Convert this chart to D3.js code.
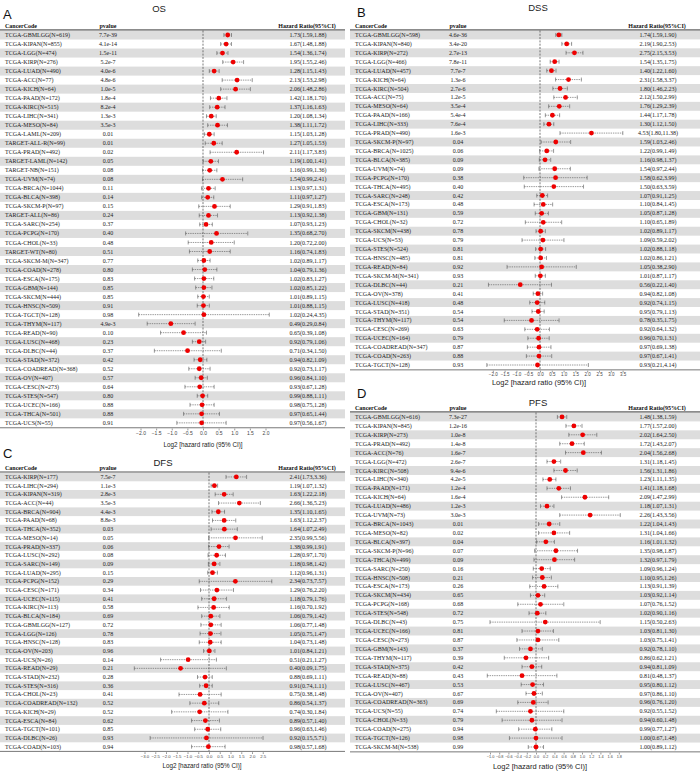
<!DOCTYPE html>
<html>
<head>
<meta charset="utf-8">
<script src="https://cdn.jsdelivr.net/npm/d3@7"></script>
<style>
  body { margin: 0; background: #fff; }
</style>
</head>
<body>
<svg id="chart" width="700" height="771"></svg>
<script>
// ---------- OS ----------
const osCodes = ["TCGA-GBMLGG(N=619)","TCGA-KIPAN(N=855)","TCGA-LGG(N=474)","TCGA-KIRP(N=276)","TCGA-LUAD(N=490)",
  "TCGA-ACC(N=77)","TCGA-KICH(N=64)","TCGA-PAAD(N=172)","TCGA-KIRC(N=515)","TCGA-LIHC(N=341)","TCGA-MESO(N=84)",
  "TCGA-LAML(N=209)","TARGET-ALL-R(N=99)","TCGA-PRAD(N=492)","TARGET-LAML(N=142)","TARGET-NB(N=151)","TCGA-UVM(N=74)",
  "TCGA-BRCA(N=1044)","TCGA-BLCA(N=398)","TCGA-SKCM-P(N=97)","TARGET-ALL(N=86)","TCGA-SARC(N=254)","TCGA-PCPG(N=170)",
  "TCGA-CHOL(N=33)","TARGET-WT(N=80)","TCGA-SKCM-M(N=347)","TCGA-COAD(N=278)","TCGA-ESCA(N=175)","TCGA-GBM(N=144)",
  "TCGA-SKCM(N=444)","TCGA-HNSC(N=509)","TCGA-TGCT(N=128)","TCGA-THYM(N=117)","TCGA-READ(N=90)","TCGA-LUSC(N=468)",
  "TCGA-DLBC(N=44)","TCGA-STAD(N=372)","TCGA-COADREAD(N=368)","TCGA-OV(N=407)","TCGA-CESC(N=273)","TCGA-STES(N=547)",
  "TCGA-UCEC(N=166)","TCGA-THCA(N=501)","TCGA-UCS(N=55)"];
const osPvalues = ["7.7e-39","4.1e-14","1.5e-11","5.2e-7","4.0e-6","4.8e-6","1.0e-5","1.8e-4","8.2e-4","1.3e-3","3.5e-3",
  "0.01","0.01","0.02","0.05","0.08","0.08","0.11","0.14","0.15","0.24","0.37","0.40","0.48","0.51","0.77","0.80","0.83",
  "0.85","0.85","0.91","0.98","4.9e-3","0.10","0.23","0.37","0.42","0.52","0.57","0.64","0.80","0.88","0.88","0.91"];
const osHR   = [1.73,1.67,1.54,1.95,1.28,2.13,2.06,1.42,1.37,1.20,1.38,1.15,1.27,2.11,1.19,1.16,1.54,1.13,1.11,1.29,1.13,1.07,1.35,1.20,1.16,1.02,1.04,1.02,1.02,1.01,1.01,1.02,0.49,0.65,0.92,0.71,0.94,0.92,0.96,0.93,0.99,0.98,0.97,0.97];
const osLow  = [1.59,1.48,1.36,1.55,1.15,1.53,1.48,1.18,1.16,1.08,1.11,1.03,1.05,1.17,1.00,0.99,0.99,0.97,0.97,0.91,0.92,0.93,0.68,0.72,0.74,0.89,0.79,0.83,0.85,0.89,0.88,0.24,0.29,0.39,0.79,0.34,0.82,0.73,0.84,0.67,0.88,0.75,0.65,0.56];
const osHigh = [1.88,1.88,1.74,2.46,1.43,2.98,2.86,1.70,1.63,1.34,1.72,1.28,1.53,3.83,1.41,1.36,2.41,1.31,1.27,1.83,1.38,1.23,2.70,2.00,1.83,1.17,1.36,1.27,1.22,1.15,1.15,4.35,0.84,1.08,1.06,1.50,1.09,1.17,1.10,1.28,1.11,1.28,1.44,1.67];

// ---------- DSS ----------
const dssCodes = ["TCGA-GBMLGG(N=598)","TCGA-KIPAN(N=840)","TCGA-KIRP(N=272)","TCGA-LGG(N=466)","TCGA-LUAD(N=457)",
  "TCGA-KICH(N=64)","TCGA-KIRC(N=504)","TCGA-ACC(N=75)","TCGA-MESO(N=64)","TCGA-PAAD(N=166)","TCGA-LIHC(N=333)",
  "TCGA-PRAD(N=490)","TCGA-SKCM-P(N=97)","TCGA-BRCA(N=1025)","TCGA-BLCA(N=385)","TCGA-UVM(N=74)","TCGA-PCPG(N=170)",
  "TCGA-THCA(N=495)","TCGA-SARC(N=248)","TCGA-ESCA(N=173)","TCGA-GBM(N=131)","TCGA-CHOL(N=32)","TCGA-SKCM(N=438)",
  "TCGA-UCS(N=53)","TCGA-STES(N=524)","TCGA-HNSC(N=485)","TCGA-READ(N=84)","TCGA-SKCM-M(N=341)","TCGA-DLBC(N=44)",
  "TCGA-OV(N=378)","TCGA-LUSC(N=418)","TCGA-STAD(N=351)","TCGA-THYM(N=117)","TCGA-CESC(N=269)","TCGA-UCEC(N=164)",
  "TCGA-COADREAD(N=347)","TCGA-COAD(N=263)","TCGA-TGCT(N=128)"];
const dssPvalues = ["4.6e-36","3.4e-20","2.7e-13","7.8e-11","7.7e-7","1.3e-6","2.7e-6","1.2e-5","3.5e-4","5.4e-4","7.6e-4",
  "1.6e-3","0.04","0.06","0.09","0.09","0.38","0.40","0.42","0.48","0.59","0.72","0.78","0.79","0.81","0.81","0.92","0.93",
  "0.21","0.41","0.48","0.54","0.54","0.63","0.79","0.87","0.88","0.93"];
const dssHR   = [1.74,2.19,2.75,1.54,1.40,2.31,1.80,2.12,1.76,1.44,1.30,4.53,1.59,1.22,1.16,1.54,1.58,1.50,1.07,1.10,1.05,1.10,1.02,1.09,1.02,1.02,1.05,1.01,0.56,0.94,0.92,0.95,0.78,0.92,0.96,0.97,0.97,0.93];
const dssLow  = [1.59,1.90,2.15,1.35,1.22,1.58,1.46,1.50,1.29,1.17,1.12,1.80,1.03,0.99,0.98,0.97,0.62,0.63,0.91,0.84,0.87,0.65,0.89,0.59,0.88,0.86,0.38,0.87,0.22,0.82,0.74,0.79,0.35,0.64,0.70,0.69,0.67,0.21];
const dssHigh = [1.90,2.53,3.53,1.75,1.60,3.37,2.23,2.99,2.39,1.78,1.50,11.38,2.46,1.49,1.37,2.44,3.99,3.59,1.25,1.45,1.28,1.89,1.17,2.02,1.18,1.21,2.90,1.17,1.40,1.08,1.15,1.13,1.75,1.32,1.31,1.38,1.41,4.14];

// ---------- DFS ----------
const dfsCodes = ["TCGA-KIRP(N=177)","TCGA-LIHC(N=294)","TCGA-KIPAN(N=319)","TCGA-ACC(N=44)","TCGA-BRCA(N=904)",
  "TCGA-PAAD(N=68)","TCGA-THCA(N=352)","TCGA-MESO(N=14)","TCGA-PRAD(N=337)","TCGA-LUSC(N=292)","TCGA-SARC(N=149)",
  "TCGA-LUAD(N=295)","TCGA-PCPG(N=152)","TCGA-CESC(N=171)","TCGA-UCEC(N=115)","TCGA-KIRC(N=113)","TCGA-BLCA(N=184)",
  "TCGA-GBMLGG(N=127)","TCGA-LGG(N=126)","TCGA-HNSC(N=128)","TCGA-OV(N=203)","TCGA-UCS(N=26)","TCGA-READ(N=29)",
  "TCGA-STAD(N=232)","TCGA-STES(N=316)","TCGA-CHOL(N=23)","TCGA-COADREAD(N=132)","TCGA-KICH(N=29)","TCGA-ESCA(N=84)",
  "TCGA-TGCT(N=101)","TCGA-DLBC(N=26)","TCGA-COAD(N=103)"];
const dfsPvalues = ["7.5e-7","1.1e-3","2.8e-3","3.5e-3","4.4e-3","8.8e-3","0.03","0.05","0.06","0.08","0.09","0.15","0.29",
  "0.34","0.41","0.58","0.69","0.72","0.78","0.83","0.96","0.14","0.21","0.28","0.36","0.41","0.52","0.52","0.62","0.85",
  "0.93","0.94"];
const dfsHR   = [2.41,1.19,1.63,2.66,1.35,1.63,1.64,2.35,1.38,1.28,1.18,1.12,2.34,1.29,1.18,1.16,1.06,1.06,1.05,1.04,1.01,0.51,0.40,0.88,0.91,0.75,0.86,0.74,0.89,0.96,0.92,0.98];
const dfsLow  = [1.73,1.07,1.22,1.36,1.10,1.12,1.07,0.99,0.99,0.97,0.98,0.96,0.73,0.76,0.79,0.70,0.79,0.77,0.75,0.73,0.84,0.21,0.09,0.69,0.74,0.38,0.54,0.30,0.57,0.63,0.15,0.57];
const dfsHigh = [3.36,1.32,2.18,5.23,1.65,2.37,2.49,5.56,1.91,1.70,1.42,1.31,7.57,2.20,1.76,1.92,1.42,1.48,1.47,1.48,1.21,1.27,1.75,1.11,1.11,1.48,1.37,1.84,1.40,1.46,5.71,1.68];

// ---------- PFS ----------
const pfsCodes = ["TCGA-GBMLGG(N=616)","TCGA-KIPAN(N=845)","TCGA-KIRP(N=273)","TCGA-PRAD(N=492)","TCGA-ACC(N=76)",
  "TCGA-LGG(N=472)","TCGA-KIRC(N=508)","TCGA-LIHC(N=340)","TCGA-PAAD(N=171)","TCGA-KICH(N=64)","TCGA-LUAD(N=486)",
  "TCGA-UVM(N=73)","TCGA-BRCA(N=1043)","TCGA-MESO(N=82)","TCGA-BLCA(N=397)","TCGA-SKCM-P(N=96)","TCGA-THCA(N=499)",
  "TCGA-SARC(N=250)","TCGA-HNSC(N=508)","TCGA-ESCA(N=173)","TCGA-SKCM(N=434)","TCGA-PCPG(N=168)","TCGA-STES(N=548)",
  "TCGA-DLBC(N=43)","TCGA-UCEC(N=166)","TCGA-CESC(N=273)","TCGA-GBM(N=143)","TCGA-THYM(N=117)","TCGA-STAD(N=375)",
  "TCGA-READ(N=88)","TCGA-LUSC(N=467)","TCGA-OV(N=407)","TCGA-COADREAD(N=363)","TCGA-UCS(N=55)","TCGA-CHOL(N=33)",
  "TCGA-COAD(N=275)","TCGA-TGCT(N=126)","TCGA-SKCM-M(N=538)"];
const pfsPvalues = ["7.3e-27","1.2e-16","1.0e-8","1.4e-8","1.6e-7","2.6e-7","9.4e-6","4.2e-5","1.2e-4","1.6e-4","1.2e-3",
  "3.0e-3","0.01","0.02","0.04","0.07","0.09","0.16","0.21","0.26","0.65","0.68","0.72","0.75","0.81","0.87","0.37","0.39",
  "0.42","0.43","0.53","0.67","0.69","0.74","0.79","0.94","0.98","0.99"];
const pfsHR   = [1.48,1.77,2.02,1.72,2.04,1.31,1.56,1.23,1.41,2.09,1.18,2.26,1.22,1.31,1.16,1.35,1.32,1.09,1.10,1.13,1.03,1.07,1.02,1.15,1.03,1.03,0.92,0.86,0.94,0.81,0.95,0.97,0.96,0.92,0.94,0.99,1.00,1.00];
const pfsLow  = [1.38,1.57,1.64,1.43,1.56,1.18,1.31,1.11,1.18,1.47,1.07,1.43,1.04,1.04,1.01,0.98,0.97,0.96,0.95,0.91,0.92,0.76,0.90,0.50,0.81,0.75,0.78,0.62,0.81,0.48,0.80,0.86,0.76,0.55,0.60,0.77,0.67,0.89];
const pfsHigh = [1.59,2.00,2.50,2.07,2.68,1.45,1.86,1.35,1.68,2.99,1.31,3.56,1.43,1.66,1.32,1.87,1.79,1.24,1.26,1.39,1.14,1.52,1.16,2.63,1.30,1.41,1.10,1.21,1.09,1.37,1.12,1.10,1.20,1.52,1.48,1.27,1.48,1.12];

const osTicks  = [-2.0,-1.5,-1.0,-0.5,0.0,0.5,1.0,1.5,2.0];
const dssTicks = [-2.0,-1.5,-1.0,-0.5,0.0,0.5,1.0,1.5,2.0,2.5,3.0,3.5];
const dfsTicks = [-3.0,-2.5,-2.0,-1.5,-1.0,-0.5,0.0,0.5,1.0,1.5,2.0,2.5];
const pfsTicks = [-1.0,-0.8,-0.6,-0.4,-0.2,0.0,0.2,0.4,0.6,0.8,1.0,1.2,1.4,1.6,1.8];

const serif = "'Liberation Serif','Times New Roman',serif";
const sans = "'Liberation Sans',Arial,sans-serif";
const svg = d3.select("#chart");
svg.append("rect").attr("width", 700).attr("height", 771).attr("fill", "#fff");

const fmt2 = d3.format(".2f");

function draw_forest(cfg) {
    const g = svg.append("g").attr("transform", "translate(" + cfg.left + ",0)");
    const n = cfg.codes.length;
    const rows = d3.range(n);
    const y = d3.scaleBand().domain(rows).range([cfg.rowTop, cfg.rowTop + n * cfg.rowStep]);
    const yc = (i) => y(i) + y.bandwidth() / 2;
    const bottom = cfg.rowTop + n * cfg.rowStep;
    const x = d3.scaleLinear().domain(d3.extent(cfg.ticks)).range(cfg.range);

    // panel letter + title
    g.append("text").attr("x", cfg.letterX).attr("y", cfg.letterY)
        .attr("font-family", sans).attr("font-size", 13).attr("fill", "#111").text(cfg.letter);
    g.append("text").attr("x", cfg.titleX).attr("y", cfg.titleY).attr("text-anchor", "middle")
        .attr("font-family", sans).attr("font-size", 9.5).attr("fill", "#222").text(cfg.title);

    // striped rows
    g.append("g").selectAll("rect")
        .data(rows.filter(i => i % 2 == 0))
        .join("rect")
        .attr("x", 0).attr("width", cfg.width)
        .attr("y", i => y(i)).attr("height", y.bandwidth())
        .attr("fill", "#dddddd");

    // header
    const head = g.append("g").attr("font-family", serif).attr("font-weight", "bold")
        .attr("font-size", 6).attr("fill", "#111");
    head.append("text").attr("x", 5).attr("y", cfg.rowTop - 2.3).text("CancerCode");
    head.append("text").attr("x", 108).attr("y", cfg.rowTop - 2.3).attr("text-anchor", "middle").text("pvalue");
    head.append("text").attr("x", 307).attr("y", cfg.rowTop - 2.3).attr("text-anchor", "middle").text("Hazard Ratio(95%CI)");
    g.append("line").attr("x1", 0).attr("x2", cfg.width)
        .attr("y1", cfg.rowTop - 0.6).attr("y2", cfg.rowTop - 0.6)
        .attr("stroke", "#8c8c8c").attr("stroke-width", 1.6);

    // row texts
    const txt = g.append("g").attr("font-family", serif).attr("font-size", 6).attr("fill", "#222");
    txt.selectAll("text.code").data(rows).join("text").attr("class", "code")
        .attr("x", 5).attr("y", i => yc(i)).attr("dy", "0.34em").text(i => cfg.codes[i]);
    txt.selectAll("text.pv").data(rows).join("text").attr("class", "pv")
        .attr("x", 108).attr("y", i => yc(i)).attr("dy", "0.34em").attr("text-anchor", "middle")
        .text(i => cfg.pvalues[i]);
    txt.selectAll("text.hr").data(rows).join("text").attr("class", "hr")
        .attr("x", 308).attr("y", i => yc(i)).attr("dy", "0.34em").attr("text-anchor", "middle")
        .text(i => fmt2(cfg.hr[i]) + "(" + fmt2(cfg.low[i]) + "," + fmt2(cfg.high[i]) + ")");

    // reference line at log2(HR) = 0
    g.append("line").attr("x1", x(0)).attr("x2", x(0))
        .attr("y1", cfg.rowTop).attr("y2", bottom)
        .attr("stroke", "#444").attr("stroke-width", 0.7).attr("stroke-dasharray", "2,1.3");

    // confidence intervals
    const ci = g.append("g").attr("stroke", "#555").attr("stroke-width", 0.6);
    ci.selectAll("line.ci").data(rows).join("line").attr("class", "ci")
        .attr("x1", i => x(Math.log2(cfg.low[i]))).attr("x2", i => x(Math.log2(cfg.high[i])))
        .attr("y1", i => yc(i)).attr("y2", i => yc(i))
        .attr("stroke-dasharray", "1.4,0.9");
    ci.selectAll("line.capl").data(rows).join("line").attr("class", "capl")
        .attr("x1", i => x(Math.log2(cfg.low[i]))).attr("x2", i => x(Math.log2(cfg.low[i])))
        .attr("y1", i => yc(i) - 2).attr("y2", i => yc(i) + 2);
    ci.selectAll("line.caph").data(rows).join("line").attr("class", "caph")
        .attr("x1", i => x(Math.log2(cfg.high[i]))).attr("x2", i => x(Math.log2(cfg.high[i])))
        .attr("y1", i => yc(i) - 2).attr("y2", i => yc(i) + 2);

    g.append("g").selectAll("circle").data(rows).join("circle")
        .attr("cx", i => x(Math.log2(cfg.hr[i]))).attr("cy", i => yc(i))
        .attr("r", 2.4).attr("fill", "#ee0000");

    // bottom rule + axis
    g.append("line").attr("x1", 0).attr("x2", cfg.width).attr("y1", bottom + 0.4).attr("y2", bottom + 0.4)
        .attr("stroke", "#555").attr("stroke-width", 0.8);
    const ax = g.append("g").attr("transform", "translate(0," + (bottom + 1.2) + ")")
        .call(d3.axisBottom(x).tickValues(cfg.ticks).tickSize(1.8).tickPadding(0.8)
            .tickFormat(d3.format(".1f")));
    ax.select(".domain").remove();
    ax.selectAll("line").attr("stroke", "#555").attr("stroke-width", 0.6);
    ax.selectAll("text").attr("font-family", sans).attr("font-size", cfg.tickSize).attr("fill", "#444");
    g.append("text").attr("x", cfg.axisTitleX).attr("y", cfg.axisTitleY).attr("text-anchor", "middle")
        .attr("font-family", sans).attr("font-size", cfg.axisTitleSize).attr("fill", "#222")
        .text("Log2 [hazard ratio (95% CI)]");
}

draw_forest({ left: 0, width: 345, letter: "A", letterX: 3, letterY: 18.5, title: "OS", titleX: 159, titleY: 11.8,
    codes: osCodes, pvalues: osPvalues, hr: osHR, low: osLow, high: osHigh, ticks: osTicks, tickSize: 5,
    rowTop: 30.5, rowStep: 9.02, range: [140.5, 265.5], axisTitleX: 203, axisTitleY: 446.5, axisTitleSize: 6.3 });

draw_forest({ left: 350, width: 350, letter: "B", letterX: 7, letterY: 17, title: "DSS", titleX: 188, titleY: 11,
    codes: dssCodes, pvalues: dssPvalues, hr: dssHR, low: dssLow, high: dssHigh, ticks: dssTicks, tickSize: 4.5,
    rowTop: 30.5, rowStep: 8.92, range: [142.8, 272.6], axisTitleX: 189, axisTitleY: 385, axisTitleSize: 7.5 });

draw_forest({ left: 0, width: 345, letter: "C", letterX: 3, letterY: 458, title: "DFS", titleX: 163, titleY: 466,
    codes: dfsCodes, pvalues: dfsPvalues, hr: dfsHR, low: dfsLow, high: dfsHigh, ticks: dfsTicks, tickSize: 4.3,
    rowTop: 472.6, rowStep: 8.7, range: [144.5, 262.75], axisTitleX: 202, axisTitleY: 768, axisTitleSize: 6.3 });

draw_forest({ left: 350, width: 350, letter: "D", letterX: 7, letterY: 398, title: "PFS", titleX: 188, titleY: 406,
    codes: pfsCodes, pvalues: pfsPvalues, hr: pfsHR, low: pfsLow, high: pfsHigh, ticks: pfsTicks, tickSize: 3.8,
    rowTop: 412.5, rowStep: 8.92, range: [140, 268.8], axisTitleX: 190, axisTitleY: 769, axisTitleSize: 7.5 });
</script>
</body>
</html>
